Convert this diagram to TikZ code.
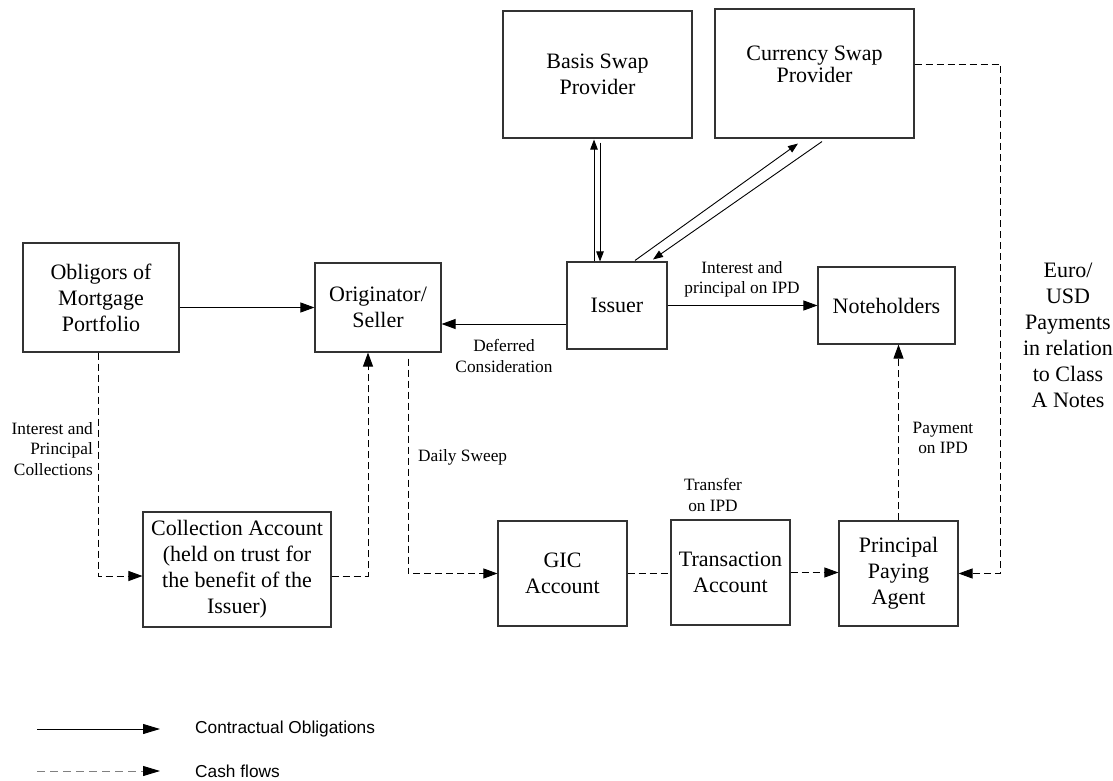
\documentclass[tikz,border=0pt]{standalone}
\usepackage{fontspec}
\setmainfont{Liberation Serif}
\setsansfont{Liberation Sans}
\usetikzlibrary{arrows.meta}
\begin{document}
\begin{tikzpicture}[x=1pt,y=-1pt,
  box/.style={draw=black!80,line width=1.1pt,align=center,inner sep=0pt,font=\fontsize{22}{26}\selectfont},
  big/.style={align=center,inner sep=0pt,font=\fontsize{22}{26}\selectfont},
  lbl/.style={align=center,inner sep=0pt,font=\fontsize{17.3}{20.5}\selectfont},
  con/.style={line width=0.9pt,-{Triangle[length=14pt,width=10pt]}},
  swp/.style={line width=0.9pt,-{Triangle[length=10pt,width=7.5pt]}},
  cash/.style={line width=0.9pt,dash pattern=on 7pt off 4pt,-{Triangle[length=14pt,width=10pt]}},
  cashline/.style={line width=0.9pt,dash pattern=on 7pt off 4pt},
  legtext/.style={anchor=west,inner sep=0pt,font=\fontsize{17.3}{20}\sffamily},
]
\useasboundingbox (0,0) rectangle (1113,781);

% boxes
\node[box,minimum width=189pt,minimum height=127pt] (bas) at (597.5,74.5) {Basis Swap\\Provider};
\node[box,minimum width=199pt,minimum height=129pt] (cur) at (814.5,73.5) {};
\node[big,font=\fontsize{22}{22}\selectfont] (curtext) at (814.5,64) {Currency Swap\\Provider};
\node[box,minimum width=156pt,minimum height=109pt] (obl) at (101,297.5) {Obligors of\\Mortgage\\Portfolio};
\node[box,minimum width=126pt,minimum height=89pt] (ori) at (378,307.5) {Originator/\\Seller};
\node[box,minimum width=100pt,minimum height=87pt] (iss) at (617,305.5) {Issuer};
\node[box,minimum width=137pt,minimum height=77pt] (not) at (886.5,305.5) {Noteholders};
\node[box,minimum width=188pt,minimum height=115pt] (col) at (237,569.5) {Collection Account\\(held on trust for\\the benefit of the\\Issuer)};
\node[box,minimum width=129pt,minimum height=105pt] (gic) at (562.5,573.5) {GIC\\Account};
\node[box,minimum width=119pt,minimum height=105pt] (tra) at (730.5,572.5) {Transaction\\Account};
\node[box,minimum width=119pt,minimum height=105pt] (ppa) at (898.5,573.5) {Principal\\Paying\\Agent};

\node[big] (euro) at (1068,335.5) {Euro/\\USD\\Payments\\in relation\\to Class\\A Notes};

% contractual obligations
\draw[con] (obl.east |- ori) -- (ori.west);
\draw[con] ([yshift=-18.5pt]iss.west) -- ([yshift=-16.5pt]ori.east);
\draw[con] (iss.east) -- (not.west);
\draw[swp] ([xshift=-23pt]iss.north) -- ([xshift=-3.5pt,yshift=-1pt]bas.south);
\draw[swp] ([xshift=2.5pt,yshift=-4pt]bas.south) -- ([xshift=-17pt]iss.north);
\draw[swp] ([xshift=18pt,yshift=1pt]iss.north) -- ([xshift=-16.5pt,yshift=-5pt]cur.south);
\draw[swp] ([xshift=7.5pt,yshift=-3pt]cur.south) -- ([xshift=36pt,yshift=2pt]iss.north);

% cash flows
\draw[cash] (cur.east |- curtext) -- ++(86,0) |- (ppa.east);
\draw[cash] (ppa.north) -- (ppa.north |- not.south);
\draw[cash] ([xshift=-3pt]obl.south) |- ([yshift=-6.5pt]col.west);
\draw[cash] ([yshift=-6.5pt]col.east) -| ([xshift=-10pt]ori.south);
\draw[cash] ([xshift=30pt,yshift=-6pt]ori.south) |- (gic.west);
\draw[cashline] (gic.east) -- (tra.west |- gic.east);
\draw[cash] (tra.east) -- (ppa.west |- tra.east);

% labels
\node[lbl] (l1) at (742,279.5) {Interest and\\principal on IPD};
\node[lbl] (l2) at (504,356) {Deferred\\Consideration};
\node[lbl,align=right,anchor=east] (l3) at (93,449) {Interest and\\Principal\\Collections};
\node[lbl,anchor=west] (l4) at (418,457) {Daily Sweep};
\node[lbl] (l5) at (713,495) {Transfer\\on IPD};
\node[lbl] (l6) at (943,438) {Payment\\on IPD};

% legend
\coordinate (la1) at (37,729);
\coordinate (la2) at (160,729);
\coordinate (lb1) at (37,771);
\coordinate (lb2) at (160,771);
\draw[line width=0.9pt,-{Triangle[length=17pt,width=10pt]}] (la1) -- (la2);
\draw[line width=0.9pt,gray,dash pattern=on 8pt off 5pt,-{Triangle[length=17pt,width=10pt,black]}] (lb1) -- (lb2);
\node[legtext] (lt1) at (195,729) {Contractual Obligations};
\node[legtext] (lt2) at (195,771) {Cash flows};
\end{tikzpicture}
\end{document}
